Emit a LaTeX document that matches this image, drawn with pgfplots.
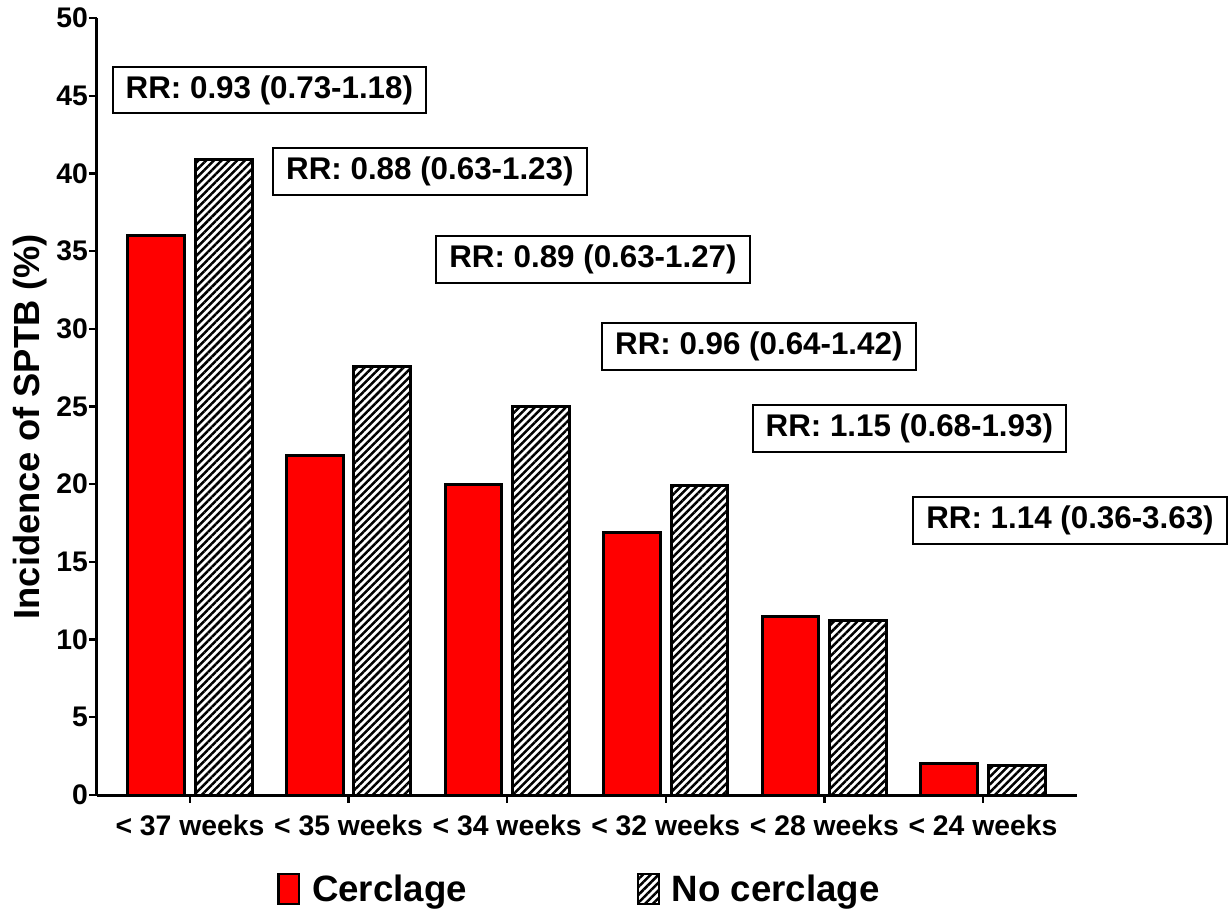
\documentclass[border=0pt]{standalone}
\usepackage{fontspec}
\setmainfont{Liberation Sans}
\usepackage{pgfplots}
\pgfplotsset{compat=1.18}
\usetikzlibrary{patterns.meta}

\begin{document}
\begin{tikzpicture}
\useasboundingbox (-58.2pt,-69.6pt) rectangle (680.4pt,477pt);
\begin{axis}[
  scale only axis,
  width=588pt, height=466.2pt,
  clip=false,
  xmin=-0.586, xmax=5.593,
  ymin=0, ymax=50,
  ytick={0,5,...,50},
  xtick={0,...,5},
  xticklabels={< 37 weeks,< 35 weeks,< 34 weeks,< 32 weeks,< 28 weeks,< 24 weeks},
  axis x line=bottom, axis y line=left,
  axis line style={-, line width=1.8pt},
  tick align=outside,
  major tick length=4.5pt,
  every tick/.style={black, line width=1.4pt},
  /pgf/number format/assume math mode=true,
  ticklabel style={font=\bfseries\fontsize{17}{20}\selectfont},
  yticklabel style={xshift=2.5pt},
  xticklabel style={yshift=-4pt},
  ylabel={Incidence of SPTB (\%)},
  ylabel style={font=\bfseries\fontsize{21.8}{26}\selectfont, at={(axis description cs:-0.0684,0.474)}, anchor=center},
  ybar=6.5pt,
  bar width=34pt,
  legend columns=2,
  legend style={at={(0.493,-0.121)}, anchor=center, draw=none, fill=none,
    font=\bfseries\fontsize{22}{26}\selectfont,
    /tikz/every odd column/.append style={column sep=5pt},
    /tikz/every even column/.append style={column sep=100pt}},
  legend image code/.code={\draw[#1, line width=1.3pt] (0pt,-9pt) rectangle (12.5pt,9pt);},
]
\addplot[draw=black, line width=1.8pt, fill=red] coordinates {
  (0,36.0) (1,21.85) (2,20.0) (3,16.9) (4,11.5) (5,2.05)};
\addlegendentry{Cerclage}
\addplot[draw=black, line width=1.8pt, pattern={Lines[angle=45,distance=3.3pt,line width=1.5pt]}] coordinates {
  (0,40.9) (1,27.55) (2,25.0) (3,19.9) (4,11.2) (5,1.9)};
\addlegendentry{No cerclage}

\tikzset{rr/.style={draw=black, line width=1.2pt, fill=white, minimum width=188pt, minimum height=28pt, inner sep=0pt, font=\bfseries\fontsize{18.8}{22}\selectfont}}
\node[rr] at (axis cs:0.501,45.37) {RR: 0.93 (0.73-1.18)};
\node[rr] at (axis cs:1.513,40.12) {RR: 0.88 (0.63-1.23)};
\node[rr] at (axis cs:2.541,34.46) {RR: 0.89 (0.63-1.27)};
\node[rr] at (axis cs:3.587,28.86) {RR: 0.96 (0.64-1.42)};
\node[rr] at (axis cs:4.536,23.58) {RR: 1.15 (0.68-1.93)};
\node[rr] at (axis cs:5.549,17.66) {RR: 1.14 (0.36-3.63)};
\end{axis}
\end{tikzpicture}
\end{document}
